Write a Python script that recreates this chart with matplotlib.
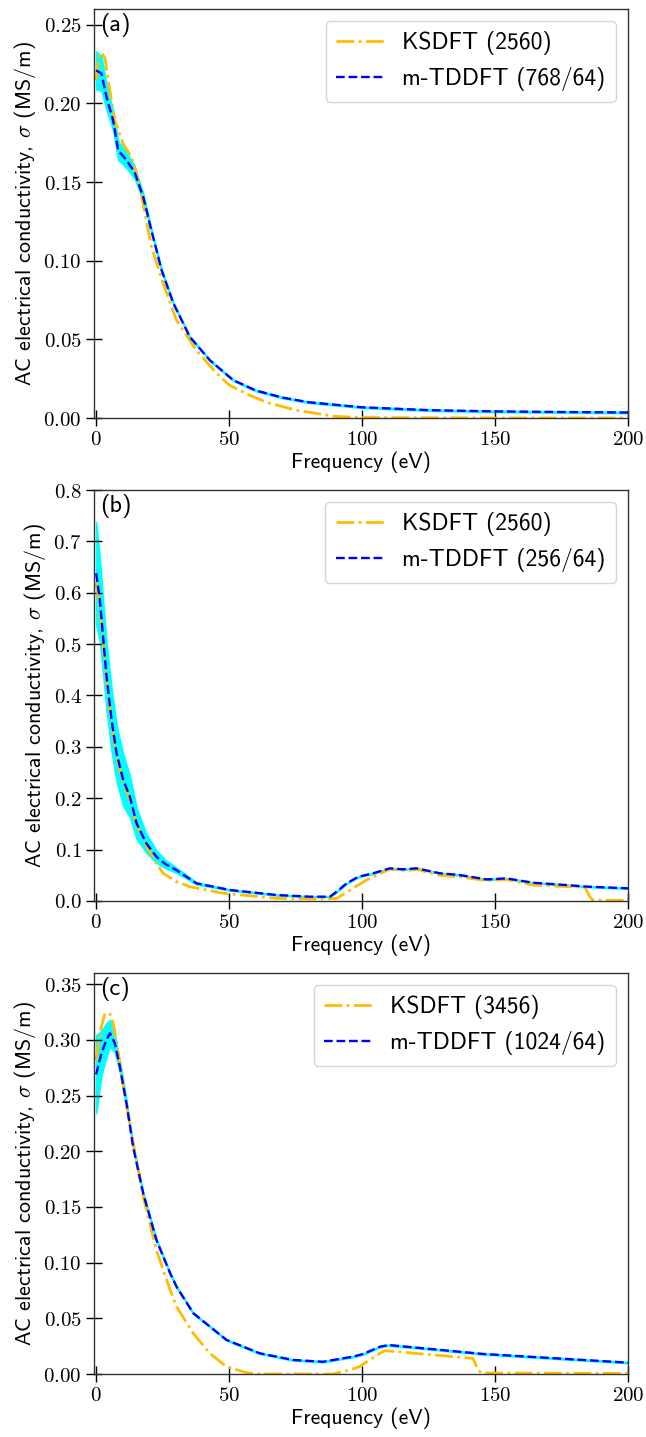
import numpy as np
import matplotlib
matplotlib.use("Agg")
import matplotlib.pyplot as plt
from matplotlib.ticker import FuncFormatter, MultipleLocator

plt.rcParams['font.family'] = ['cmss10', 'DejaVu Sans']
plt.rcParams['mathtext.fontset'] = 'cm'
plt.rcParams['axes.unicode_minus'] = False

# ---------------- data ----------------
# Panel (a)
ks_a_x = [0, 1, 2, 3.3, 4.5, 7, 10.2, 13.3, 16.4, 20.8, 25.2, 30.2, 37.7, 45.3, 50, 57, 64, 75, 90, 100, 150, 200]
ks_a_y = [0.215, 0.231, 0.232, 0.229, 0.215, 0.189, 0.174, 0.166, 0.147, 0.109, 0.0855, 0.0622, 0.043, 0.0284,
          0.021, 0.015, 0.010, 0.005, 0.001, 0.0003, 0.0, 0.0]
mt_a_x = [0, 2, 3.9, 6.4, 8.3, 11.4, 14.5, 17.7, 20.8, 24.6, 29, 35.2, 42.7, 51.5, 60, 70, 80, 100, 125, 150, 175, 200]
mt_a_y = [0.221, 0.219, 0.204, 0.189, 0.170, 0.164, 0.156, 0.1405, 0.119, 0.094, 0.073, 0.0516, 0.0368, 0.0241,
          0.0175, 0.0130, 0.0100, 0.0068, 0.0050, 0.0042, 0.0038, 0.0035]
mt_a_err = [0.012, 0.011, 0.008, 0.006, 0.006, 0.005, 0.004, 0.002, 0.001, 0.0006, 0.0005, 0.0004, 0.0004, 0.0004,
            0.0004, 0.0004, 0.0004, 0.0004, 0.0004, 0.0004, 0.0004, 0.0004]

# Panel (b)
ks_b_x = [0, 1.4, 2.6, 3.9, 5.8, 7.7, 10.2, 12.7, 15.2, 18.9, 22, 25.2, 30, 35.2, 47.8, 67.8, 80, 90.4, 95.4,
          101.7, 110.4, 116.7, 120.5, 129.2, 136.7, 146.8, 154.3, 164.3, 176.9, 183.8, 185.6, 186.8, 200]
ks_b_y = [0.62, 0.57, 0.50, 0.43, 0.345, 0.28, 0.23, 0.198, 0.148, 0.108, 0.078, 0.054, 0.038, 0.028, 0.015,
          0.0053, 0.004, 0.005, 0.021, 0.041, 0.062, 0.059, 0.0617, 0.05, 0.047, 0.0396, 0.042, 0.031, 0.028,
          0.0266, 0.0084, 0.002, 0.001]
mt_b_x = [0, 1.4, 2.6, 3.9, 5.8, 7.7, 10.2, 12.7, 15.2, 18.9, 22.7, 26, 30.2, 37.7, 50.3, 67.8, 80.3, 87.9, 90.4,
          94.1, 98.5, 104.2, 110.4, 115.4, 120.5, 129.2, 136.7, 146.8, 154.3, 164.3, 176.9, 184.4, 200]
mt_b_y = [0.638, 0.586, 0.514, 0.437, 0.352, 0.287, 0.235, 0.203, 0.151, 0.112, 0.086, 0.072, 0.060, 0.0344,
          0.0214, 0.0117, 0.0084, 0.0084, 0.018, 0.034, 0.047, 0.054, 0.0636, 0.0617, 0.0636, 0.054, 0.0506,
          0.042, 0.044, 0.0356, 0.031, 0.028, 0.0247]
mt_b_err = [0.10, 0.08, 0.07, 0.065, 0.06, 0.055, 0.05, 0.04, 0.03, 0.018, 0.012, 0.008, 0.005, 0.002, 0.001,
            0.0008, 0.0008, 0.0008, 0.0008, 0.0008, 0.0008, 0.0008, 0.0008, 0.0008, 0.0008, 0.0008, 0.0008,
            0.0008, 0.0008, 0.0008, 0.0008, 0.0008, 0.0008]

# Panel (c)
ks_c_x = [0, 2, 3.3, 5.2, 6.4, 8.3, 10.2, 13.3, 17.7, 22.7, 27.8, 30.2, 36.5, 42.7, 49, 56.5, 61.5, 89, 95.3,
          99, 106.7, 108.5, 141.7, 143.6, 145, 200]
ks_c_y = [0.282, 0.312, 0.324, 0.323, 0.315, 0.288, 0.258, 0.216, 0.159, 0.111, 0.0755, 0.0605, 0.0366, 0.0186,
          0.0066, 0.0012, 0.0, 0.0, 0.0036, 0.0066, 0.0186, 0.021, 0.014, 0.0036, 0.0009, 0.0005]
mt_c_x = [0, 2, 3.9, 5.2, 7, 8.9, 11.4, 13.9, 17.7, 22.7, 27.8, 30.2, 36.5, 49, 61.5, 74, 85.3, 96.6, 100.4,
          106.7, 110, 145.5, 200]
mt_c_y = [0.269, 0.288, 0.300, 0.306, 0.297, 0.276, 0.243, 0.204, 0.162, 0.120, 0.0905, 0.0785, 0.0546, 0.0306,
          0.0186, 0.0126, 0.011, 0.0156, 0.018, 0.0245, 0.026, 0.018, 0.0102]
mt_c_err = [0.035, 0.02, 0.015, 0.012, 0.008, 0.005, 0.003, 0.002, 0.001, 0.0008, 0.0006, 0.0005, 0.0005,
            0.0005, 0.0005, 0.0005, 0.0005, 0.0005, 0.0005, 0.0005, 0.0005, 0.0005, 0.0005]

panel_tags = ['(a)', '(b)', '(c)']
ks_labels = ['KSDFT (2560)', 'KSDFT (2560)', 'KSDFT (3456)']
mt_labels = ['m-TDDFT (768/64)', 'm-TDDFT (256/64)', 'm-TDDFT (1024/64)']
y_limits = [0.26, 0.8, 0.36]
y_steps = [0.05, 0.1, 0.05]
y_fmt = ['{:.2f}', '{:.1f}', '{:.2f}']

panels = [
    (ks_a_x, ks_a_y, mt_a_x, mt_a_y, mt_a_err),
    (ks_b_x, ks_b_y, mt_b_x, mt_b_y, mt_b_err),
    (ks_c_x, ks_c_y, mt_c_x, mt_c_y, mt_c_err),
]

# ---------------- figure ----------------
W, H = 646, 1437
fig = plt.figure(figsize=(W / 100, H / 100), dpi=100)

boxes = [(9, 418), (490, 901), (973, 1374)]  # top, bottom in pixels
left_px, right_px = 93.5, 628

for i, (kx, ky, mx, my, me) in enumerate(panels):
    top, bot = boxes[i]
    ax = fig.add_axes([left_px / W, 1 - bot / H, (right_px - left_px) / W, (bot - top) / H])
    mx_a = np.array(mx)
    my_a = np.array(my)
    me_a = np.array(me)
    ax.fill_between(mx_a, my_a - me_a, my_a + me_a, color='cyan', linewidth=1.2, zorder=1)
    ax.plot(kx, ky, linestyle='-.', color='#FFBC00', lw=2.0, label=ks_labels[i], zorder=2)
    ax.plot(mx, my, linestyle='--', color='blue', lw=1.7, label=mt_labels[i], zorder=3)

    ax.set_xlim(-1, 200)
    ax.set_ylim(0, y_limits[i])
    ax.xaxis.set_major_locator(MultipleLocator(50))
    ax.yaxis.set_major_locator(MultipleLocator(y_steps[i]))
    fmt = y_fmt[i]
    ax.yaxis.set_major_formatter(FuncFormatter(lambda v, p, f=fmt: '$' + f.format(v) + '$'))
    ax.xaxis.set_major_formatter(FuncFormatter(lambda v, p: '$%d$' % round(v)))
    ax.tick_params(direction='inout', length=11, width=1, labelsize=15, pad=3)
    for s in ax.spines.values():
        s.set_linewidth(1.0)
        s.set_color('#333333')
    ax.set_xlabel('Frequency (eV)', fontsize=15.5, labelpad=2)
    ax.set_ylabel(r'AC electrical conductivity, $\sigma$ (MS/m)', fontsize=15.8, labelpad=4)
    ax.text(0.012, 0.99, panel_tags[i], transform=ax.transAxes, ha='left', va='top', fontsize=17.5)
    ax.legend(loc='upper right', fontsize=17, handlelength=2.1, borderaxespad=0.5,
              framealpha=0.8, edgecolor='#cccccc', fancybox=True, labelspacing=0.5,
              handletextpad=0.7, borderpad=0.45)

fig.savefig('out.png', dpi=100)
